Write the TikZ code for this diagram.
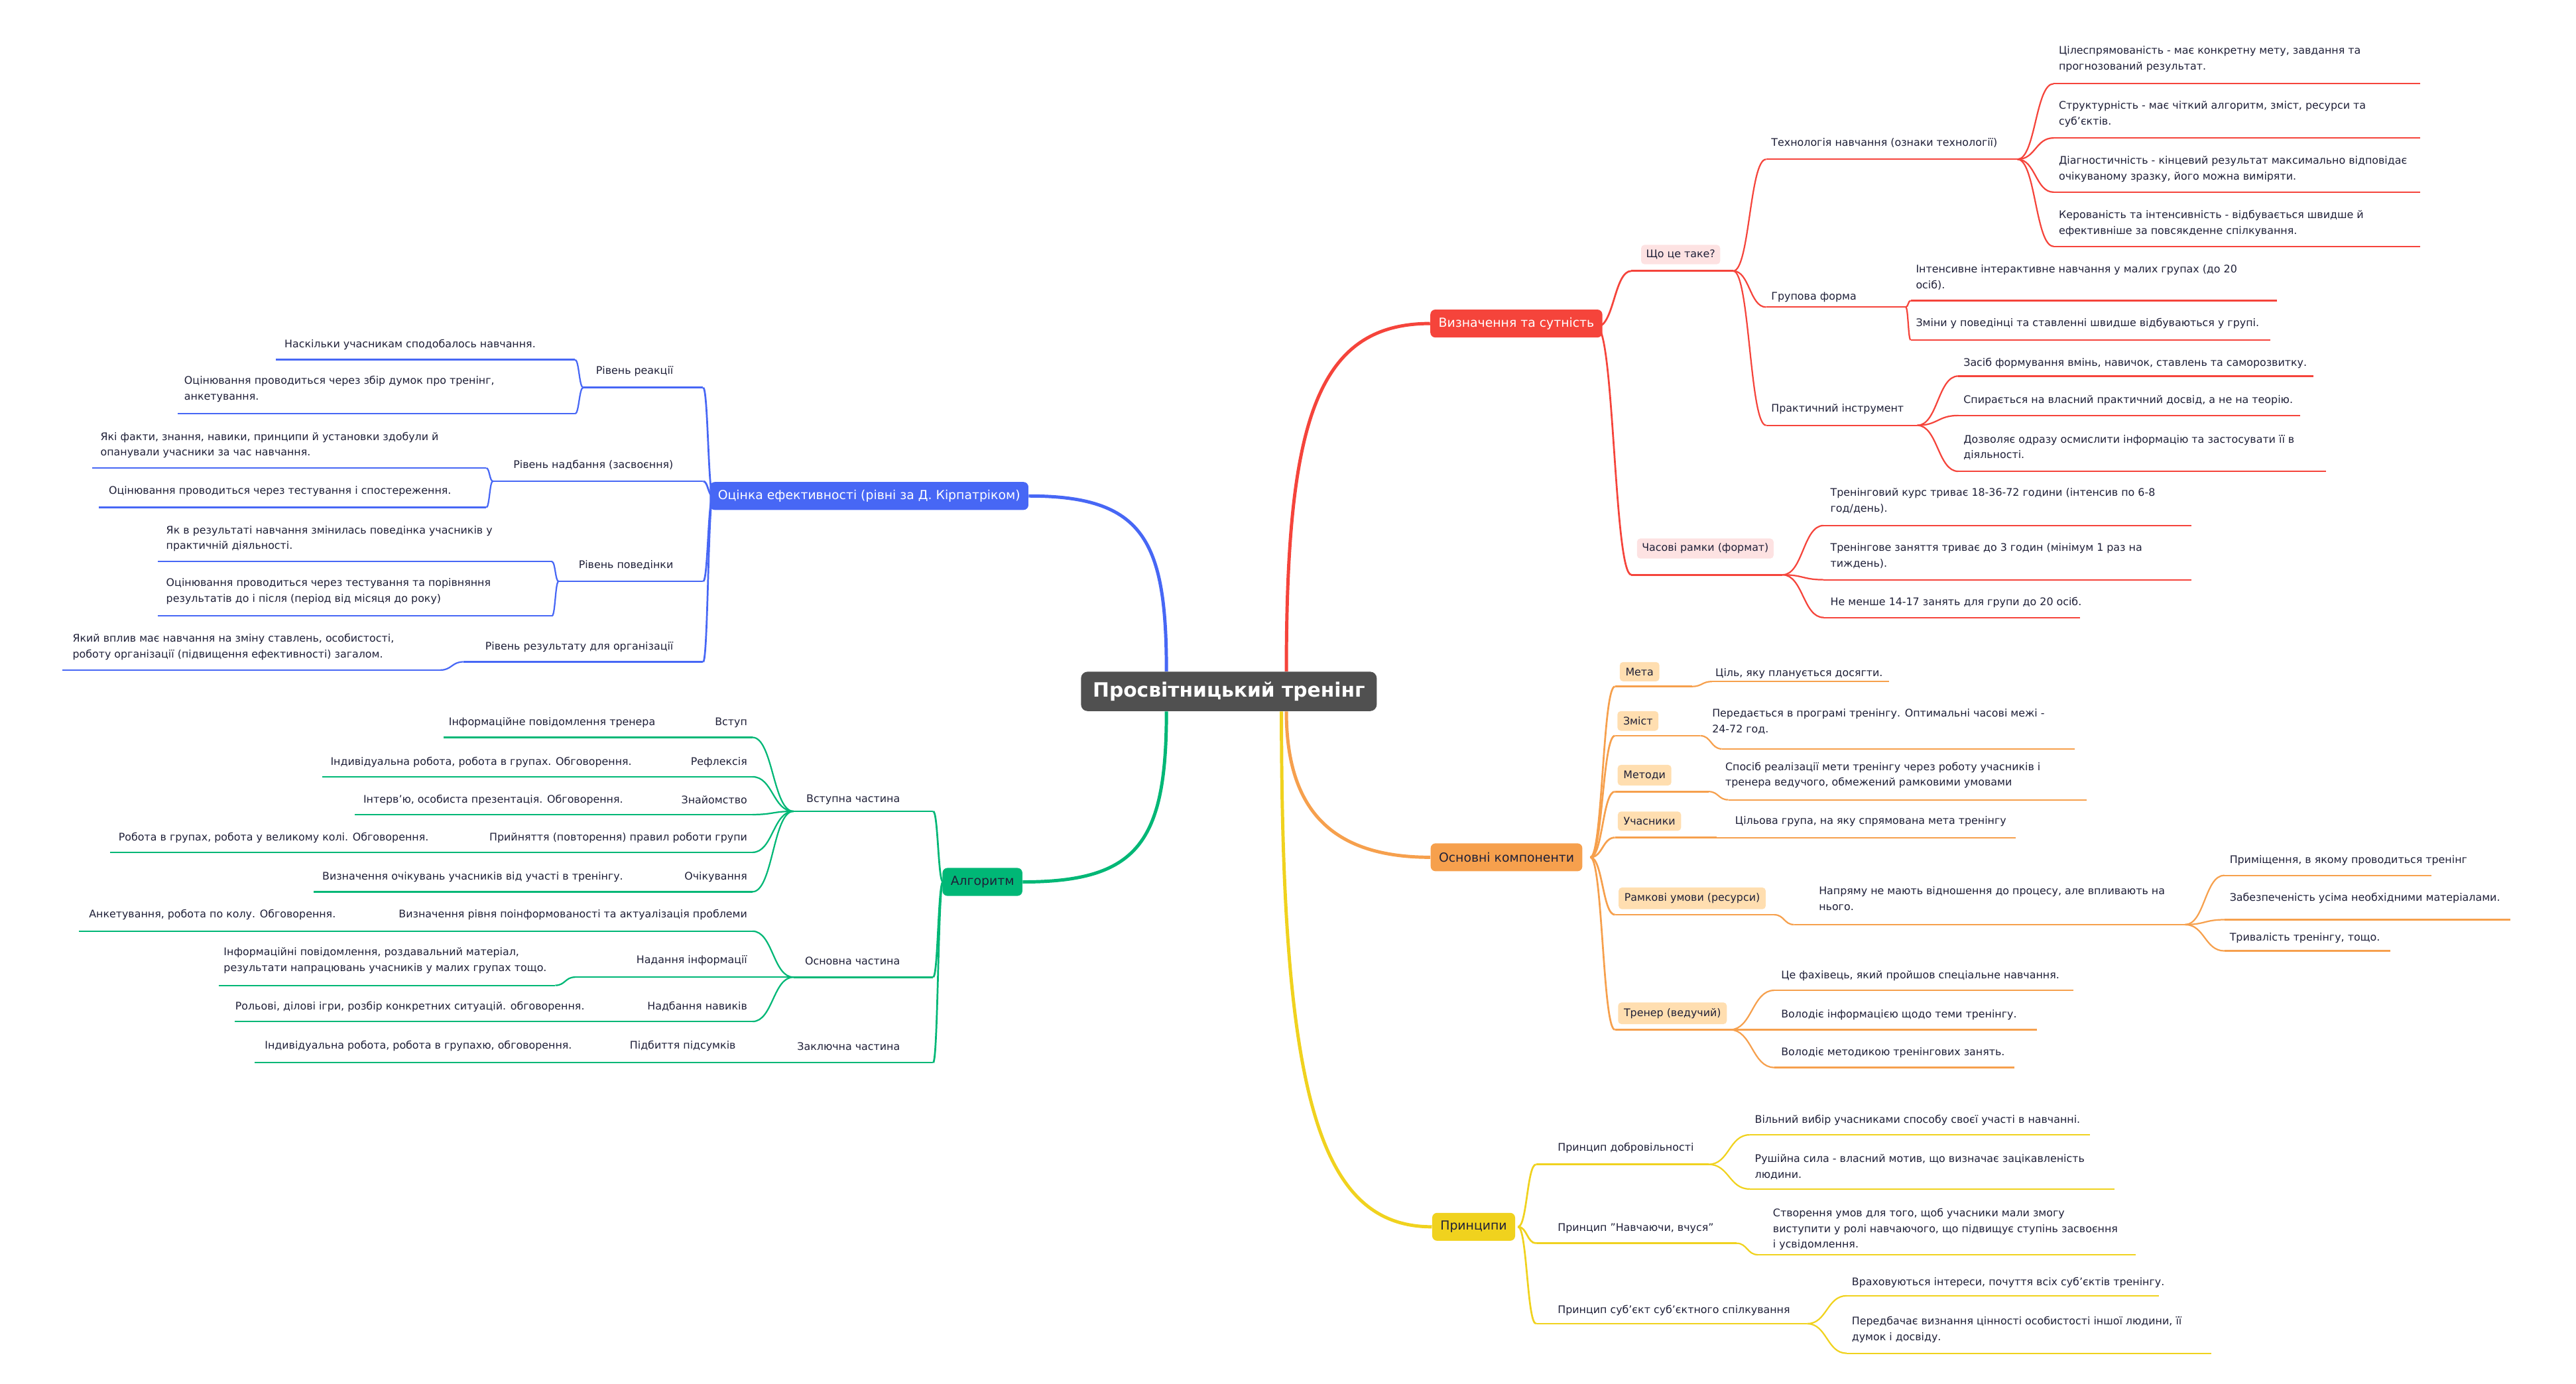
\documentclass[tikz,border=0pt]{standalone}
\usepackage{fontspec}
\setmainfont{DejaVu Sans}
\usetikzlibrary{calc}
\definecolor{ink}{HTML}{1F2038}
\definecolor{redc}{HTML}{F5443B}
\definecolor{orac}{HTML}{F6A04D}
\definecolor{yelc}{HTML}{F0D21E}
\definecolor{bluc}{HTML}{4767F5}
\definecolor{grec}{HTML}{00B776}
\definecolor{pinkc}{HTML}{FDE2E2}
\definecolor{peach}{HTML}{FFDEB0}
\definecolor{rootc}{HTML}{505050}
\newcommand\lf[9]{%
 \coordinate (#1-s) at (#3,#5); \coordinate (#1-e) at (#4,#5);
 \draw[#2] (#1-s) -- (#1-e);
 \node[txt,#6] (#1) at (#7,#8) {#9};}
\newcommand\curv[3][]{\path ($(#2)!0.5!(#3)$) coordinate (tmpm);
 \draw[#1] (#2) .. controls (tmpm|-#2) and (tmpm|-#3) .. (#3);}
\newcommand\dsc[4]{\node[txt,anchor=west] (#1) at (#2,#3) {#4};}
\begin{document}
\begin{tikzpicture}[x=1pt,y=-1pt,
 txt/.style={font=\fontsize{6.4}{9.6}\selectfont,text=ink,inner sep=0pt,align=left},
 rl/.style={draw=redc,line width=0.9pt}, rl2/.style={draw=redc,line width=1.1pt},
 ol/.style={draw=orac,line width=0.9pt}, ol2/.style={draw=orac,line width=1.1pt},
 yl/.style={draw=yelc,line width=0.9pt}, yl2/.style={draw=yelc,line width=1.1pt},
 bl/.style={draw=bluc,line width=0.9pt}, bl2/.style={draw=bluc,line width=1.1pt},
 gl/.style={draw=grec,line width=0.9pt}, gl2/.style={draw=grec,line width=1.1pt},
 pillp/.style={fill=pinkc,rounded corners=2pt,inner sep=3pt,anchor=center},
 pillo/.style={fill=peach,rounded corners=2pt,inner sep=3.5pt,anchor=center},
 mb/.style={rounded corners=3pt,text=white,font=\fontsize{7.6}{9}\selectfont,minimum height=17pt,inner xsep=5pt},
 root/.style={fill=rootc,rounded corners=4pt,text=white,font=\bfseries\fontsize{12}{14}\selectfont,minimum height=24pt,minimum width=180pt}]
\useasboundingbox (0,0) rectangle (1568,842.7);

% root and main branches
\node[root] (root) at (748,421) {Просвітницький тренінг};
\node[mb,fill=redc] (def) at (923,197) {Визначення та сутність};
\node[mb,fill=orac,text=ink] (comp) at (917,522) {Основні компоненти};
\node[mb,fill=yelc,text=ink] (pr) at (897,747) {Принципи};
\node[mb,fill=bluc] (ev) at (529,302) {Оцінка ефективності (рівні за Д. Кірпатріком)};
\node[mb,fill=grec,text=ink] (alg) at (598,537) {Алгоритм};
\draw[redc,line width=2pt] ($(root.north)+(35,0)$) .. controls +(0,-150) and +(-70,0) .. (def.west);
\draw[orac,line width=2pt] ($(root.south)+(35,0)$) .. controls +(0,60) and +(-60,0) .. (comp.west);
\draw[yelc,line width=2pt] ($(root.south)+(32,0)$) .. controls +(0,230) and +(-70,0) .. (pr.west);
\draw[bluc,line width=2pt] ($(root.north)+(-38,0)$) .. controls +(0,-80) and +(70,0) .. (ev.east);
\draw[grec,line width=2pt] ($(root.south)+(-38,0)$) .. controls +(0,80) and +(70,0) .. (alg.east);

% ---------- red ----------
\coordinate (red-j) at (972,199);
\lf{wt}{rl2}{993}{1055}{165}{pillp}{1023}{155}{Що це таке?}
\lf{cr}{rl2}{993}{1085}{350}{pillp}{1038}{334}{Часові рамки (формат)}
\curv[rl2]{red-j}{wt-s}\curv[rl2]{red-j}{cr-s}
\lf{tech}{rl}{1075}{1228}{97}{anchor=west}{1078}{87}{Технологія навчання (ознаки технології)}
\lf{grp}{rl}{1075}{1160}{187}{anchor=west}{1078}{181}{Групова форма}
\lf{prk}{rl}{1075}{1167}{259}{anchor=west}{1078}{249}{Практичний інструмент}
\curv[rl]{wt-e}{tech-s}\curv[rl]{wt-e}{grp-s}\curv[rl]{wt-e}{prk-s}
\lf{t1}{rl}{1250}{1473}{51}{anchor=west}{1253}{36}{Цілеспрямованість - має конкретну мету, завдання та\\прогнозований результат.}
\lf{t2}{rl}{1250}{1473}{84}{anchor=west}{1253}{69.5}{Структурність - має чіткий алгоритм, зміст, ресурси та\\суб'єктів.}
\lf{t3}{rl}{1250}{1473}{117}{anchor=west}{1253}{103}{Діагностичність - кінцевий результат максимально відповідає\\очікуваному зразку, його можна виміряти.}
\lf{t4}{rl}{1250}{1473}{150}{anchor=west}{1253}{136}{Керованість та інтенсивність - відбувається швидше й\\ефективніше за повсякденне спілкування.}
\foreach \k in {t1,t2,t3,t4}{\curv[rl]{tech-e}{\k-s}}
\lf{g1}{rl}{1163}{1386}{183}{anchor=west}{1166}{169}{Інтенсивне інтерактивне навчання у малих групах (до 20\\осіб).}
\lf{g2}{rl}{1163}{1382}{207}{anchor=west}{1166}{197}{Зміни у поведінці та ставленні швидше відбуваються у групі.}
\curv[rl]{grp-e}{g1-s}\curv[rl]{grp-e}{g2-s}
\lf{p1}{rl}{1192}{1408}{229}{anchor=west}{1195}{221}{Засіб формування вмінь, навичок, ставлень та саморозвитку.}
\lf{p2}{rl}{1192}{1400}{253}{anchor=west}{1195}{244}{Спирається на власний практичний досвід, а не на теорію.}
\lf{p3}{rl}{1192}{1416}{287}{anchor=west}{1195}{272.5}{Дозволяє одразу осмислити інформацію та застосувати її в\\діяльності.}
\curv[rl]{prk-e}{p1-s}\curv[rl]{prk-e}{p2-s}\curv[rl]{prk-e}{p3-s}
\lf{c1}{rl}{1110}{1334}{320}{anchor=west}{1114}{305}{Тренінговий курс триває 18-36-72 години (інтенсив по 6-8\\год/день).}
\lf{c2}{rl}{1110}{1334}{353}{anchor=west}{1114}{338.5}{Тренінгове заняття триває до 3 годин (мінімум 1 раз на\\тиждень).}
\lf{c3}{rl}{1110}{1266}{376}{anchor=west}{1114}{367}{Не менше 14-17 занять для групи до 20 осіб.}
\curv[rl]{cr-e}{c1-s}\curv[rl]{cr-e}{c2-s}\curv[rl]{cr-e}{c3-s}

% ---------- orange ----------
\coordinate (or-j) at (968,522);
\lf{m}{ol2}{983}{1030}{418}{pillo}{998}{409}{Мета}
\lf{z}{ol2}{983}{1035}{448}{pillo}{997}{439}{Зміст}
\lf{mt}{ol2}{983}{1040}{482}{pillo}{1001}{472}{Методи}
\lf{u}{ol2}{983}{1045}{510}{pillo}{1004}{500}{Учасники}
\lf{r}{ol2}{983}{1080}{557}{pillo}{1030}{547}{Рамкові умови (ресурси)}
\lf{tr}{ol2}{983}{1053}{627}{pillo}{1018}{617}{Тренер (ведучий)}
\foreach \k in {m,z,mt,u,r,tr}{\curv[ol2]{or-j}{\k-s}}
\lf{m1}{ol}{1042}{1150}{415}{anchor=west}{1044}{410}{Ціль, яку планується досягти.}
\lf{z1}{ol}{1048}{1263}{456}{anchor=west}{1042}{439.5}{Передається в програмі тренінгу. Оптимальні часові межі -\\24-72 год.}
\lf{mt1}{ol}{1052}{1270}{487}{anchor=west}{1050}{472}{Спосіб реалізації мети тренінгу через роботу учасників і\\тренера ведучого, обмежений рамковими умовами}
\lf{u1}{ol}{1045}{1227}{510}{anchor=west}{1056}{500}{Цільова група, на яку спрямована мета тренінгу}
\lf{r1}{ol}{1092}{1330}{563}{anchor=west}{1107}{547}{Напряму не мають відношення до процесу, але впливають на\\нього.}
\curv[ol]{m-e}{m1-s}\curv[ol]{z-e}{z1-s}\curv[ol]{mt-e}{mt1-s}\curv[ol]{u-e}{u1-s}\curv[ol]{r-e}{r1-s}
\lf{ra}{ol}{1354}{1480}{533}{anchor=west}{1357}{524}{Приміщення, в якому проводиться тренінг}
\lf{rb}{ol}{1354}{1528}{560}{anchor=west}{1357}{547}{Забезпеченість усіма необхідними матеріалами.}
\lf{rc}{ol}{1354}{1455}{579}{anchor=west}{1357}{571}{Тривалість тренінгу, тощо.}
\curv[ol]{r1-e}{ra-s}\curv[ol]{r1-e}{rb-s}\curv[ol]{r1-e}{rc-s}
\lf{tr1}{ol}{1080}{1262}{603}{anchor=west}{1084}{594}{Це фахівець, який пройшов спеціальне навчання.}
\lf{tr2}{ol}{1080}{1240}{627}{anchor=west}{1084}{618}{Володіє інформацією щодо теми тренінгу.}
\lf{tr3}{ol}{1080}{1226}{650}{anchor=west}{1084}{641}{Володіє методикою тренінгових занять.}
\curv[ol]{tr-e}{tr1-s}\curv[ol]{tr-e}{tr2-s}\curv[ol]{tr-e}{tr3-s}

% ---------- yellow ----------
\coordinate (ye-j) at (924,747);
\lf{y1}{yl2}{935}{1040}{709}{anchor=west}{948}{699}{Принцип добровільності}
\lf{y2}{yl2}{935}{1057}{757}{anchor=west}{948}{748}{Принцип "Навчаючи, вчуся"}
\lf{y3}{yl2}{935}{1100}{806}{anchor=west}{948}{798}{Принцип суб'єкт суб'єктного спілкування}
\curv[yl2]{ye-j}{y1-s}\curv[yl2]{ye-j}{y2-s}\curv[yl2]{ye-j}{y3-s}
\lf{y1a}{yl}{1065}{1272}{691}{anchor=west}{1068}{682}{Вільний вибір учасниками способу своєї участі в навчанні.}
\lf{y1b}{yl}{1065}{1287}{724}{anchor=west}{1068}{710.5}{Рушійна сила - власний мотив, що визначає зацікавленість\\людини.}
\curv[yl]{y1-e}{y1a-s}\curv[yl]{y1-e}{y1b-s}
\lf{y2a}{yl}{1070}{1300}{764}{anchor=west}{1079}{748.5}{Створення умов для того, щоб учасники мали змогу\\виступити у ролі навчаючого, що підвищує ступінь засвоєння\\і усвідомлення.}
\curv[yl]{y2-e}{y2a-s}
\lf{y3a}{yl}{1124}{1314}{789}{anchor=west}{1127}{781}{Враховуються інтереси, почуття всіх суб'єктів тренінгу.}
\lf{y3b}{yl}{1124}{1346}{824}{anchor=west}{1127}{809.5}{Передбачає визнання цінності особистості іншої людини, її\\думок і досвіду.}
\curv[yl]{y3-e}{y3a-s}\curv[yl]{y3-e}{y3b-s}

% ---------- blue ----------
\coordinate (bl-j) at (434,302);
\lf{b1}{bl2}{428}{355}{236}{anchor=east}{410}{226}{Рівень реакції}
\lf{b2}{bl2}{428}{300}{293}{anchor=east}{410}{283}{Рівень надбання (засвоєння)}
\lf{b3}{bl2}{428}{340}{354}{anchor=east}{410}{344}{Рівень поведінки}
\lf{b4}{bl2}{428}{282}{403}{anchor=east}{410}{394}{Рівень результату для організації}
\foreach \k in {b1,b2,b3,b4}{\curv[bl2]{bl-j}{\k-s}}
\lf{b1a}{bl}{350}{168}{219}{anchor=west}{173}{210}{Наскільки учасникам сподобалось навчання.}
\lf{b1b}{bl}{350}{108}{252}{anchor=west}{112}{237}{Оцінювання проводиться через збір думок про тренінг,\\анкетування.}
\curv[bl]{b1-e}{b1a-s}\curv[bl]{b1-e}{b1b-s}
\lf{b2a}{bl}{296}{56}{285}{anchor=west}{61}{271}{Які факти, знання, навики, принципи й установки здобули й\\опанували учасники за час навчання.}
\lf{b2b}{bl}{296}{60}{309}{anchor=west}{66}{299}{Оцінювання проводиться через тестування і спостереження.}
\curv[bl]{b2-e}{b2a-s}\curv[bl]{b2-e}{b2b-s}
\lf{b3a}{bl}{336}{96}{342}{anchor=west}{101}{328}{Як в результаті навчання змінилась поведінка учасників у\\практичній діяльності.}
\lf{b3b}{bl}{336}{96}{375}{anchor=west}{101}{360}{Оцінювання проводиться через тестування та порівняння\\результатів до і після (період від місяця до року)}
\curv[bl]{b3-e}{b3a-s}\curv[bl]{b3-e}{b3b-s}
\lf{b4a}{bl}{268}{38}{408}{anchor=west}{44}{394}{Який вплив має навчання на зміну ставлень, особистості,\\роботу організації (підвищення ефективності) загалом.}
\curv[bl]{b4-e}{b4a-s}

% ---------- green ----------
\coordinate (gr-j) at (574,537);
\lf{gv}{gl2}{568}{483}{494}{anchor=east}{548}{487}{Вступна частина}
\lf{go}{gl2}{568}{483}{595}{anchor=east}{548}{585}{Основна частина}
\lf{gz}{gl2}{568}{472}{647}{anchor=east}{548}{637}{Заключна частина}
\curv[gl2]{gr-j}{gv-s}\curv[gl2]{gr-j}{go-s}\curv[gl2]{gr-j}{gz-s}
\lf{ga}{gl}{458}{270}{449}{anchor=east}{455}{440}{Вступ}
\dsc{ga-d}{273}{440}{Інформаційне повідомлення тренера}
\lf{gb}{gl}{458}{196}{473}{anchor=east}{455}{464}{Рефлексія}
\dsc{gb-d}{201}{464}{Індивідуальна робота, робота в групах. Обговорення.}
\lf{gc}{gl}{458}{216}{496}{anchor=east}{455}{487}{Знайомство}
\dsc{gc-d}{221}{487}{Інтерв'ю, особиста презентація. Обговорення.}
\lf{gd}{gl}{458}{67}{519}{anchor=east}{455}{510}{Прийняття (повторення) правил роботи групи}
\dsc{gd-d}{72}{510}{Робота в групах, робота у великому колі. Обговорення.}
\lf{ge}{gl}{458}{191}{543}{anchor=east}{455}{534}{Очікування}
\dsc{ge-d}{196}{534}{Визначення очікувань учасників від участі в тренінгу.}
\foreach \k in {ga,gb,gc,gd,ge}{\curv[gl]{gv-e}{\k-s}}
\lf{gf}{gl}{458}{48}{567}{anchor=east}{455}{557}{Визначення рівня поінформованості та актуалізація проблеми}
\dsc{gf-d}{54}{557}{Анкетування, робота по колу. Обговорення.}
\lf{gg}{gl}{458}{350}{595}{anchor=east}{455}{585}{Надання інформації}
\lf{gg2}{gl}{338}{133}{600}{anchor=west}{136}{585}{Інформаційні повідомлення, роздавальний матеріал,\\результати напрацювань учасників у малих групах тощо.}
\curv[gl]{gg-e}{gg2-s}
\lf{gh}{gl}{458}{143}{622}{anchor=east}{455}{613}{Надбання навиків}
\dsc{gh-d}{143}{613}{Рольові, ділові ігри, розбір конкретних ситуацій. обговорення.}
\foreach \k in {gf,gg,gh}{\curv[gl]{go-e}{\k-s}}
\lf{gi}{gl}{470}{155}{647}{anchor=east}{448}{637}{Підбиття підсумків}
\dsc{gi-d}{161}{637}{Індивідуальна робота, робота в групахю, обговорення.}
\curv[gl]{gz-e}{gi-s}
\end{tikzpicture}
\end{document}
